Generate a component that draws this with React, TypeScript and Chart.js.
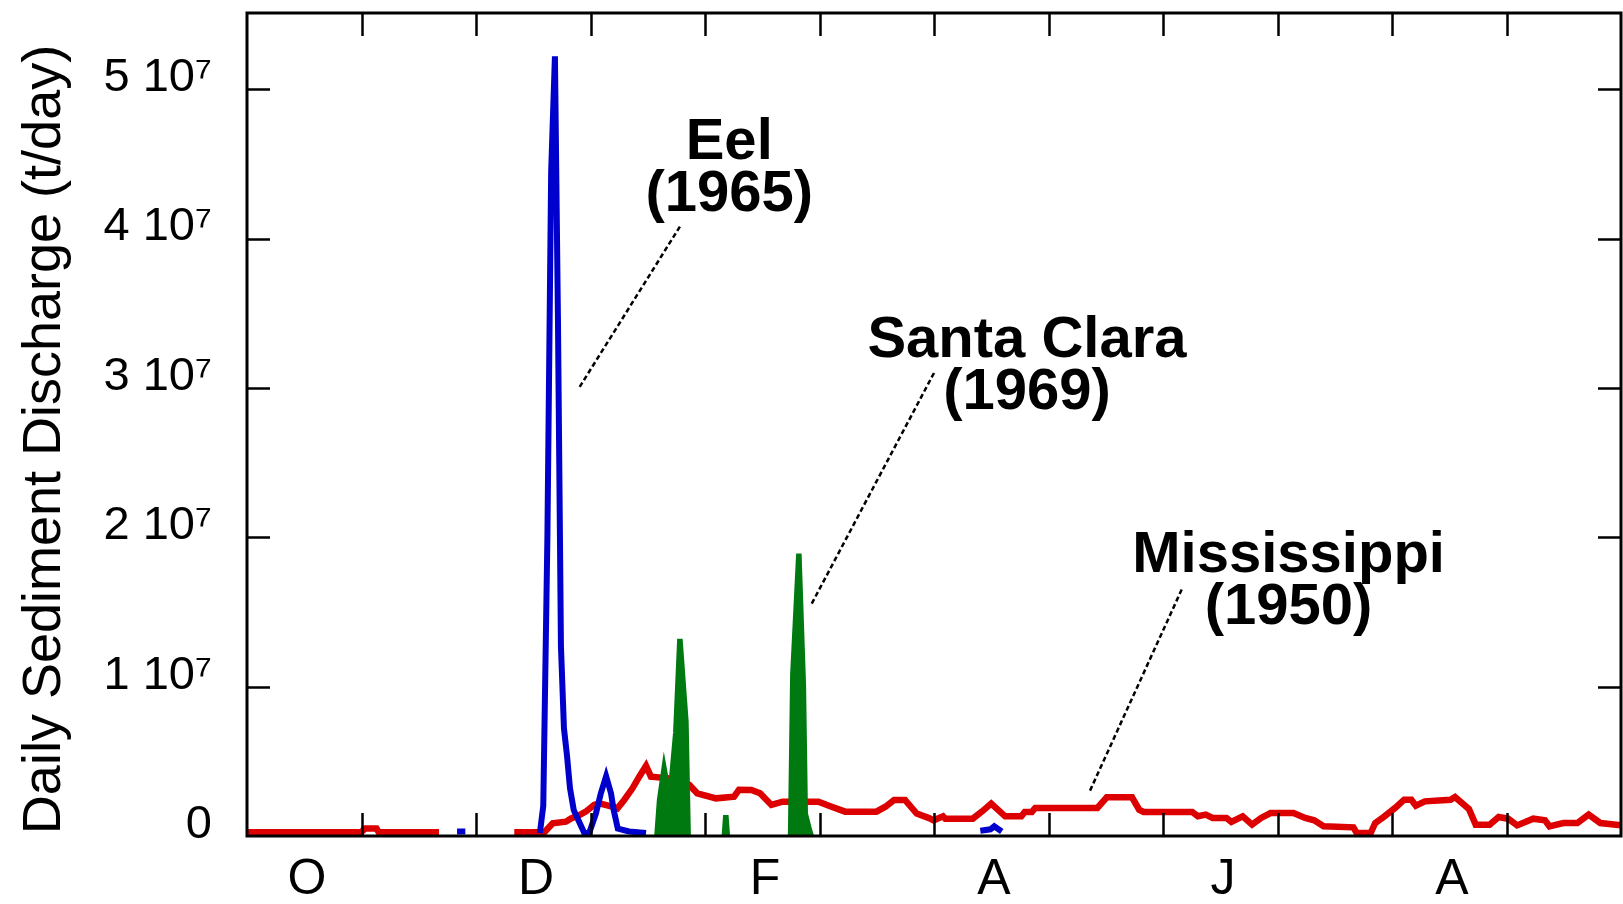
import React, { useEffect, useRef } from 'react';
import { Chart, registerables } from 'chart.js';

Chart.register(...registerables);

// ---------- data ----------
const DAYS_IN_YEAR = 365;
const MONTH_LABELS = ['O', '', 'D', '', 'F', '', 'A', '', 'J', '', 'A', '', ''];
const Y_TICKS = [0, 1e7, 2e7, 3e7, 4e7, 5e7];
const Y_MAX = 5.51e7;
const Y_TITLE = 'Daily Sediment Discharge (t/day)';

// Mississippi (1950), day of water year (Oct 1 = 0) and t/day; null = missing
const MISS_DAYS = [
  0, 30.3, 31.4, 34.4, 35.0, 51.0, 61, 71.0, 78.0, 79.0, 81.2, 84.7, 86.1, 88.3, 90.0, 92.2, 93.6, 96.5,
  98.4, 100.2, 102.4, 104.2, 106.0, 107.3, 112.2, 117.5, 119.6, 124.6, 129.4, 130.7, 134.0, 136.3,
  139.3, 142.3, 151.8, 155.3, 158.9, 167.2, 169.6, 171.9, 174.8, 177.9, 181.2, 182.4, 184.9, 185.5,
  192.8, 195.3, 197.7, 201.4, 205.7, 206.6, 208.5, 209.4, 225.9, 228.4, 235.1, 237.0, 238.2, 251.1,
  252.6, 254.7, 256.5, 260.2, 261.5, 264.5, 267.0, 269.4, 271.9, 278.0, 281.1, 283.5, 286.0, 293.9,
  294.8, 298.5, 299.7, 301.9, 305.0, 307.4, 309.3, 310.5, 312.9, 319.7, 320.9, 324.6, 326.4, 330.1,
  332.5, 335.0, 337.4, 341.7, 344.8, 346.0, 349.7, 353.4, 356.4, 359.5, 365,
];
const MISS_VALUES = [
  2.5e5, 2.5e5, 5e5, 5e5, 2.5e5, 2.5e5, null, 2.5e5, 2.5e5, 2.5e5, 8.5e5, 9.6e5, 1.18e6, 1.4e6, 1.63e6,
  2.08e6, 2.19e6, 2.0e6, 1.85e6, 2.41e6, 3.19e6, 3.97e6, 4.7e6, 3.97e6, 3.86e6, 3.42e6, 2.86e6, 2.52e6,
  2.63e6, 3.1e6, 3.08e6, 2.86e6, 2.08e6, 2.3e6, 2.3e6, 1.96e6, 1.63e6, 1.63e6, 1.96e6, 2.41e6, 2.41e6,
  1.5e6, 1.2e6, 1.05e6, 1.32e6, 1.16e6, 1.16e6, 1.65e6, 2.17e6, 1.32e6, 1.32e6, 1.61e6, 1.61e6, 1.88e6,
  1.88e6, 2.59e6, 2.59e6, 1.76e6, 1.61e6, 1.61e6, 1.32e6, 1.43e6, 1.21e6, 1.21e6, 9.4e5, 1.32e6, 7.6e5,
  1.21e6, 1.54e6, 1.54e6, 1.21e6, 1.05e6, 6.5e5, 5.8e5, 2e5, 2e5, 8.7e5, 1.27e6, 1.88e6, 2.43e6, 2.43e6,
  2.03e6, 2.32e6, 2.43e6, 2.61e6, 1.81e6, 7.6e5, 7.6e5, 1.27e6, 1.16e6, 7.1e5, 1.16e6, 1.05e6, 6.5e5,
  8.7e5, 8.7e5, 1.43e6, 8.7e5, 7.1e5,
];

// Eel (1965)
const EEL_DAYS = [
  55.8, 58.0, 66, 77.8, 78.7, 79.8, 80.8, 81.8, 82.6, 83.4, 84.2, 85.0, 85.8, 86.8, 89.6, 90.9, 92.7,
  94.0, 95.4, 96.7, 97.4, 98.5, 101.5, 106.0, 150, 194.8, 197.5, 198.5, 200.5,
];
const EEL_VALUES = [
  3e5, 3e5, null, 2e5, 2e6, 2.0e7, 4.45e7, 5.22e7, 3.47e7, 1.27e7, 7.2e6, 5.4e6, 3.2e6, 1.74e6, 2e5, 2e5,
  1.52e6, 2.86e6, 4.0e6, 2.86e6, 1.74e6, 5e5, 3e5, 2e5, null, 3.5e5, 4.5e5, 6.5e5, 3e5,
];

// Santa Clara (1969)
const SC_DAYS = [
  108.9, 109.6, 110.8, 112.3, 113.9, 115.0, 116.6, 117.2, 122, 126.8, 127.2, 127.6, 136, 144.4, 145.0,
  146.6, 147.8, 148.3, 149.3, 149.9,
];
const SC_VALUES = [
  0, 2.4e6, 4.5e6, 2.4e6, 6.9e6, 1.32e7, 7.65e6, 0, null, 0, 1.4e6, 0, null, 0, 1.08e7, 1.89e7, 1.0e7,
  1.5e6, 5e5, 0,
];

// annotations (text anchored in data coordinates)
const ANNOT_LINES = [
  ['Eel', '(1965)'],
  ['Santa Clara', '(1969)'],
  ['Mississippi', '(1950)'],
];
const ANNOT_DAY = [128.1, 207.2, 276.7];
const ANNOT_VALUE = [4.53e7, 3.21e7, 1.765e7];
const LEADER_FROM_DAY = [115.0, 182.5, 248.3];
const LEADER_FROM_VALUE = [4.08e7, 3.1e7, 1.65e7];
const LEADER_TO_DAY = [88.2, 149.9, 223.7];
const LEADER_TO_VALUE = [3.0e7, 1.55e7, 2.9e6];

// ---------- style ----------
const RED = '#dd0000';
const BLUE = '#0000cc';
const GREEN = '#007a10';
const FONT = '"Liberation Sans", Arial, Helvetica, sans-serif';

const toPoints = (days: number[], values: (number | null)[]) =>
  days.map((d, i) => ({ x: d, y: values[i] }));

const framePlugin = {
  id: 'framePlugin',
  afterDatasetsDraw(chart: any) {
    const { ctx, chartArea: a, scales } = chart;
    const x = scales.x;
    const y = scales.y;
    ctx.save();

    // leader lines
    ctx.strokeStyle = '#000';
    ctx.lineWidth = 2.5;
    ctx.setLineDash([5, 3]);
    for (let i = 0; i < LEADER_FROM_DAY.length; i++) {
      ctx.beginPath();
      ctx.moveTo(x.getPixelForValue(LEADER_FROM_DAY[i]), y.getPixelForValue(LEADER_FROM_VALUE[i]));
      ctx.lineTo(x.getPixelForValue(LEADER_TO_DAY[i]), y.getPixelForValue(LEADER_TO_VALUE[i]));
      ctx.stroke();
    }
    ctx.setLineDash([]);

    // annotation text
    ctx.fillStyle = '#000';
    ctx.font = `bold 58px ${FONT}`;
    ctx.textAlign = 'center';
    ctx.textBaseline = 'alphabetic';
    ANNOT_LINES.forEach((lines, i) => {
      const px = x.getPixelForValue(ANNOT_DAY[i]);
      const py = y.getPixelForValue(ANNOT_VALUE[i]);
      lines.forEach((t, j) => ctx.fillText(t, px, py + j * 52));
    });

    // inward tick marks on all four sides
    const TL = 23;
    ctx.lineWidth = 2.5;
    ctx.beginPath();
    x.ticks.forEach((t: any) => {
      if (t.value <= 0 || t.value >= DAYS_IN_YEAR) return;
      const px = Math.round(x.getPixelForValue(t.value)) + 0.5;
      ctx.moveTo(px, a.bottom);
      ctx.lineTo(px, a.bottom - TL);
      ctx.moveTo(px, a.top);
      ctx.lineTo(px, a.top + TL);
    });
    y.ticks.forEach((t: any) => {
      if (t.value <= 0) return;
      const py = Math.round(y.getPixelForValue(t.value)) + 0.5;
      ctx.moveTo(a.left, py);
      ctx.lineTo(a.left + TL, py);
      ctx.moveTo(a.right, py);
      ctx.lineTo(a.right - TL, py);
    });
    ctx.stroke();

    // frame
    ctx.lineWidth = 3;
    ctx.strokeRect(a.left, a.top, a.right - a.left, a.bottom - a.top);

    // y-axis title
    ctx.font = `54px ${FONT}`;
    ctx.textAlign = 'center';
    ctx.textBaseline = 'middle';
    ctx.translate(45, (a.top + a.bottom) / 2 + 15);
    ctx.rotate(-Math.PI / 2);
    ctx.fillText(Y_TITLE, 0, 0);

    ctx.restore();
  },
};

export default function App() {
  const ref = useRef<HTMLCanvasElement | null>(null);

  useEffect(() => {
    const canvas = ref.current;
    if (!canvas) return;
    const chart = new Chart(canvas, {
      type: 'line',
      data: {
        datasets: [
          {
            label: 'Santa Clara (1969)',
            data: toPoints(SC_DAYS, SC_VALUES),
            borderColor: GREEN,
            backgroundColor: GREEN,
            fill: 'origin',
            borderWidth: 5.5,
            pointRadius: 0,
            tension: 0,
            spanGaps: false,
          },
          {
            label: 'Eel (1965)',
            data: toPoints(EEL_DAYS, EEL_VALUES),
            borderColor: BLUE,
            backgroundColor: BLUE,
            fill: false,
            borderWidth: 6,
            pointRadius: 0,
            tension: 0,
            spanGaps: false,
          },
          {
            label: 'Mississippi (1950)',
            data: toPoints(MISS_DAYS, MISS_VALUES),
            borderColor: RED,
            backgroundColor: RED,
            fill: false,
            borderWidth: 6.5,
            pointRadius: 0,
            tension: 0,
            spanGaps: false,
          },
        ],
      } as any,
      options: {
        responsive: false,
        animation: false,
        events: [],
        layout: { padding: { top: 13, right: 2, left: 0, bottom: 0 } },
        plugins: { legend: { display: false }, tooltip: { enabled: false } },
        scales: {
          x: {
            type: 'linear',
            min: 0,
            max: DAYS_IN_YEAR,
            grid: { display: false, drawTicks: false },
            border: { display: false },
            afterBuildTicks: (s: any) => {
              s.ticks = MONTH_LABELS.map((_, i) => ({ value: (i * DAYS_IN_YEAR) / 12 }));
            },
            afterFit: (s: any) => {
              s.height = 68;
              s.paddingLeft = 0;
              s.paddingRight = 0;
              s.paddingTop = 0;
              s.paddingBottom = 0;
            },
            ticks: {
              autoSkip: false,
              maxRotation: 0,
              minRotation: 0,
              padding: 14,
              labelOffset: 60,
              color: '#000',
              font: { family: FONT, size: 50 },
              callback: (_v: any, i: number) => MONTH_LABELS[i] ?? '',
            },
          },
          y: {
            type: 'linear',
            min: 0,
            max: Y_MAX,
            grid: { display: false, drawTicks: false },
            border: { display: false },
            afterBuildTicks: (s: any) => {
              s.ticks = Y_TICKS.map((v) => ({ value: v }));
            },
            afterFit: (s: any) => {
              s.width = 247;
              s.paddingTop = 0;
              s.paddingBottom = 0;
              s.paddingLeft = 0;
              s.paddingRight = 0;
            },
            ticks: {
              padding: 35,
              labelOffset: -11,
              color: '#000',
              font: { family: FONT, size: 47 },
              callback: (v: any) => (Number(v) === 0 ? '0' : `${Math.round(Number(v) / 1e7)} 10\u2077`),
            },
          },
        },
      } as any,
      plugins: [framePlugin],
    });
    return () => chart.destroy();
  }, []);

  return (
    <div style={{ position: 'fixed', left: 0, top: 0, width: 1623, height: 904, background: '#fff' }}>
      <canvas ref={ref} width={1623} height={904} style={{ display: 'block' }} />
    </div>
  );
}
